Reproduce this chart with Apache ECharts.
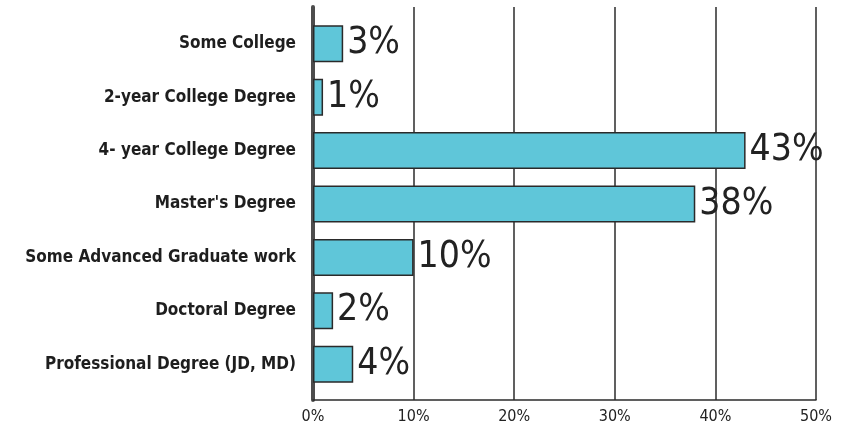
<!DOCTYPE html>
<html>
<head>
<meta charset="utf-8">
<script src="https://cdn.jsdelivr.net/npm/echarts@6/dist/echarts.min.js"></script>
<style>
  html, body { margin: 0; padding: 0; background: #ffffff; }
  #chart { width: 846px; height: 427px; }
</style>
</head>
<body>
<div id="chart"></div>
<script>
// Highest level of education completed (share of respondents)
const categories = [
  'Some College',
  '2-year College Degree',
  '4- year College Degree',
  "Master's Degree",
  'Some Advanced Graduate work',
  'Doctoral Degree',
  'Professional Degree (JD, MD)'
];
const shares = [3, 1, 43, 38, 10, 2, 4];
const xTicks = [0, 10, 20, 30, 40, 50];

const narrow = '"Liberation Sans Narrow", "DejaVu Sans Condensed", sans-serif';

const chart = echarts.init(document.getElementById('chart'));
chart.setOption({
  animation: false,
  backgroundColor: '#ffffff',
  grid: [
    // frame: gridlines, zero line and percent axis
    { left: 313, right: 30, top: 7, bottom: 27, outerBoundsMode: 'none' },
    // bars and category labels
    { left: 313, right: 30, top: 17, bottom: 36, outerBoundsMode: 'none' }
  ],
  xAxis: [
    {
      gridIndex: 0,
      type: 'value',
      min: xTicks[0],
      max: xTicks[xTicks.length - 1],
      interval: 10,
      axisLine: { show: true, lineStyle: { color: '#2b2b2b', width: 1.5 } },
      axisTick: { show: false },
      splitLine: { show: true, lineStyle: { color: '#2b2b2b', width: 1.5 } },
      axisLabel: {
        formatter: v => v + '%',
        color: '#222',
        fontFamily: narrow,
        fontSize: 16,
        margin: 9
      }
    },
    {
      gridIndex: 1,
      type: 'value',
      min: xTicks[0],
      max: xTicks[xTicks.length - 1],
      show: false
    }
  ],
  yAxis: [
    {
      gridIndex: 0,
      type: 'category',
      data: [''],
      axisLine: { show: true, lineStyle: { color: '#4d4d4d', width: 4 } },
      axisTick: { show: false },
      axisLabel: { show: false },
      splitLine: { show: false }
    },
    {
      gridIndex: 1,
      type: 'category',
      inverse: true,
      data: categories,
      axisLine: { show: false },
      axisTick: { show: false },
      axisLabel: {
        color: '#1e1e1e',
        fontFamily: narrow,
        fontWeight: 'bold',
        fontSize: 17,
        margin: 17
      }
    }
  ],
  series: [
    {
      type: 'bar',
      xAxisIndex: 1,
      yAxisIndex: 1,
      data: shares,
      barWidth: 37,
      itemStyle: {
        color: '#5fc6d9',
        borderColor: '#2a2a2a',
        borderWidth: 1.5
      },
      label: {
        show: true,
        position: 'right',
        distance: 4,
        formatter: p => p.value + '%',
        color: '#222',
        fontFamily: narrow,
        fontSize: 37
      },
      z: 1
    }
  ]
});
</script>
</body>
</html>
